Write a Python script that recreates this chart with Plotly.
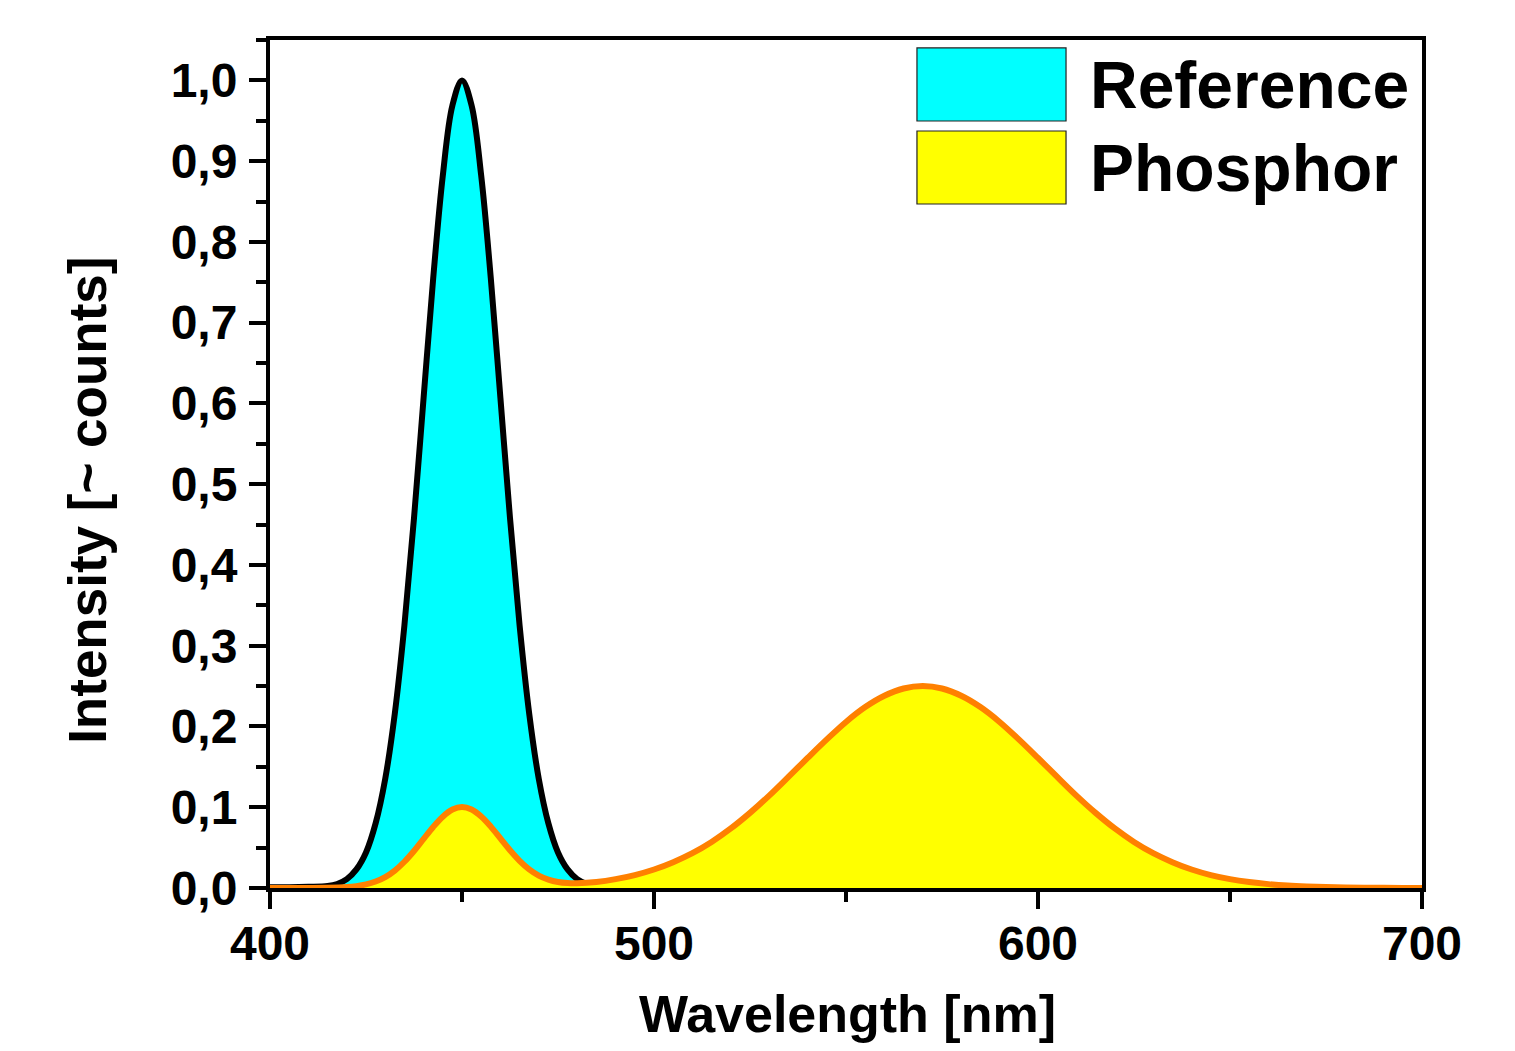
import plotly.graph_objects as go

# Wavelength grid (nm) and values
ref_wl = [400, 405, 410, 415, 417.5, 420, 422.5, 425, 427.5, 430, 432.5, 435, 437.5,
          440, 442.5, 445, 447.5, 450, 452.5, 455, 457.5, 460, 462.5, 465, 467.5,
          470, 472.5, 475, 477.5, 480, 482.5, 485, 490, 500]
ref_int = [0.001, 0.001, 0.0015, 0.0025, 0.005, 0.011, 0.023, 0.044, 0.080, 0.135, 0.216, 0.325, 0.458,
           0.607, 0.755, 0.882, 0.969, 1.000, 0.969, 0.882, 0.755, 0.607, 0.458, 0.325, 0.216,
           0.135, 0.080, 0.044, 0.023, 0.011, 0.005, 0.0022, 0.0005, 0.0]

ph_wl = [400, 405, 410, 415, 420, 422.5, 425, 427.5, 430, 432.5, 435, 437.5, 440, 442.5, 445,
         447.5, 450, 452.5, 455, 457.5, 460, 462.5, 465, 467.5, 470, 472.5, 475, 477.5,
         480, 485, 490, 495, 500, 505, 510, 515, 520, 525, 530, 535, 540, 545, 550, 555,
         560, 565, 570, 575, 580, 585, 590, 595, 600, 605, 610, 615, 620, 625, 630, 635,
         640, 645, 650, 655, 660, 665, 670, 675, 680, 685, 690, 695, 700]
ph_int = [0.0, 0.0, 0.0, 0.0002, 0.0011, 0.0023, 0.0044, 0.0080, 0.0135, 0.0216, 0.0325, 0.0458,
          0.0608, 0.0756, 0.0883, 0.0971, 0.1002, 0.0971, 0.0885, 0.0760, 0.0614, 0.0468,
          0.0337, 0.0231, 0.0154, 0.0104, 0.0074, 0.0061,
          0.0059, 0.0075, 0.011, 0.016, 0.0229, 0.032, 0.0431,
          0.057, 0.0737, 0.093, 0.1144, 0.1375, 0.161, 0.184, 0.2056, 0.224, 0.238, 0.247, 0.250,
          0.247, 0.238, 0.224, 0.2056, 0.184, 0.161, 0.1375, 0.1144, 0.093, 0.0737, 0.057, 0.0431,
          0.032, 0.0229, 0.016, 0.011, 0.0074, 0.0048, 0.003, 0.0019, 0.0012, 0.0007, 0.0004,
          0.0002, 0.0001, 0.0001]

series_names = ["Reference", "Phosphor"]
x_ticks = [400, 500, 600, 700]

FONT = "Liberation Sans"

fig = go.Figure()
fig.add_trace(go.Scatter(x=ref_wl, y=ref_int, name=series_names[0], mode="lines",
                         line=dict(color="black", width=6, shape="spline", smoothing=1.0),
                         fill="tozeroy", fillcolor="#00FFFF", showlegend=False))
fig.add_trace(go.Scatter(x=ph_wl, y=ph_int, name=series_names[1], mode="lines",
                         line=dict(color="#FF8000", width=6, shape="spline", smoothing=1.0),
                         fill="tozeroy", fillcolor="#FFFF00", showlegend=False))

axis_common = dict(showline=True, linecolor="black", linewidth=4, mirror=True,
                   ticks="outside", tickcolor="black", tickwidth=4, ticklen=17,
                   showgrid=False, zeroline=False,
                   tickfont=dict(family=FONT, size=48, color="black", weight="bold"))

fig.update_xaxes(range=[400, 700], tickvals=x_ticks, ticktext=[str(v) for v in x_ticks],
                 ticklabelstandoff=-7,
                 minor=dict(ticks="outside", tickvals=[450, 550, 650], ticklen=10,
                            tickwidth=4, tickcolor="black"),
                 **axis_common)
fig.update_yaxes(range=[0, 1.05], tick0=0, dtick=0.1, tickformat=".1f",
                 ticklabelstandoff=2,
                 minor=dict(ticks="outside", dtick=0.05, tick0=0, ticklen=10,
                            tickwidth=4, tickcolor="black"),
                 **axis_common)

# Legend drawn manually (large swatches)
fig.add_shape(type="rect", xref="paper", yref="paper", x0=0.5616, x1=0.6910, y0=0.9045, y1=0.9906,
              fillcolor="#00FFFF", line=dict(color="#222222", width=1.2), layer="above")
fig.add_shape(type="rect", xref="paper", yref="paper", x0=0.5616, x1=0.6910, y0=0.8066, y1=0.8927,
              fillcolor="#FFFF00", line=dict(color="#222222", width=1.2), layer="above")
fig.add_annotation(text=series_names[0], xref="paper", yref="paper", x=0.7101, y=0.9469,
                   xanchor="left", yanchor="middle", showarrow=False,
                   font=dict(family=FONT, size=66, color="black", weight="bold"))
fig.add_annotation(text=series_names[1], xref="paper", yref="paper", x=0.7101, y=0.8491,
                   xanchor="left", yanchor="middle", showarrow=False,
                   font=dict(family=FONT, size=66, color="black", weight="bold"))

# Axis titles
fig.add_annotation(text="Wavelength [nm]", xref="paper", yref="paper", x=0.5009, y=-0.1480,
                   xanchor="center", yanchor="middle", showarrow=False,
                   font=dict(family=FONT, size=52, color="black", weight="bold"))
fig.add_annotation(text="Intensity [~ counts]", xref="paper", yref="paper", x=-0.1590, y=0.4575,
                   xanchor="center", yanchor="middle", showarrow=False, textangle=-90,
                   font=dict(family=FONT, size=53, color="black", weight="bold"))

fig.update_layout(width=1499, height=1035,
                  margin=dict(l=262, r=85, t=32, b=155),
                  paper_bgcolor="white", plot_bgcolor="white",
                  separators=",.",
                  font=dict(family=FONT, color="black"))

fig.write_html("out.html")
